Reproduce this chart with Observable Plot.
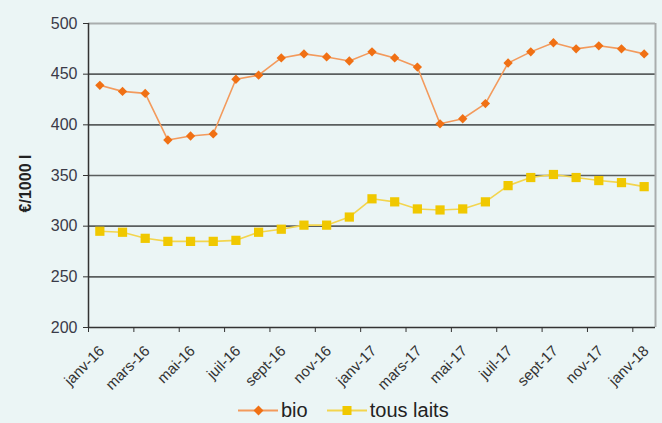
<!DOCTYPE html>
<html><head><meta charset="utf-8">
<script src="https://cdn.jsdelivr.net/npm/d3@7"></script>
<script src="https://cdn.jsdelivr.net/npm/@observablehq/plot@0.6"></script>
<style>
html,body{margin:0;padding:0;background:#ebf5f5;}
#wrap{width:662px;height:423px;position:relative;font-family:"Liberation Sans",Arial,sans-serif;}
#legend{position:absolute;left:238px;top:398px;height:25px;display:flex;align-items:center;font-size:20px;color:#222;white-space:nowrap;}
#legend span.item{display:inline-flex;align-items:center;margin-right:19px;}
</style></head>
<body><div id="wrap"><div id="chart"></div><div id="legend"></div></div>
<script>
const months = ["janv-16","févr-16","mars-16","avr-16","mai-16","juin-16","juil-16","août-16","sept-16","oct-16","nov-16","déc-16",
"janv-17","févr-17","mars-17","avr-17","mai-17","juin-17","juil-17","août-17","sept-17","oct-17","nov-17","déc-17","janv-18"];
const bio = [439,433,431,385,389,391,445,449,466,470,467,463,472,466,457,401,406,421,461,472,481,475,478,475,470];
const tousLaits = [295,294,288,285,285,285,286,294,297,301,301,309,327,324,317,316,317,324,340,348,351,348,345,343,339];
const yTicks = [200,250,300,350,400,450,500];
const seriesNames = ["bio","tous laits"];
const colors = {bio:{line:"#f39a5c",mark:"#f07014"}, "tous laits":{line:"#f3d54e",mark:"#f0c800"}};

const data = [];
months.forEach((m,i)=>{
  data.push({i, month:m, series:"bio", value:bio[i]});
  data.push({i, month:m, series:"tous laits", value:tousLaits[i]});
});
const labelIdx = months.map((_,i)=>i).filter(i=>i%2===0);
const boundaryTicks = labelIdx.slice(0,-1).map(i=>i+1.5).concat([-0.5]);

const chart = Plot.plot({
  width:662, height:395,
  marginLeft:88, marginRight:7, marginTop:23, marginBottom:68,
  style:{background:"transparent", fontFamily:"Liberation Sans, Arial, sans-serif"},
  x:{type:"linear", domain:[-0.5, months.length-0.5]},
  y:{domain:[200,500]},
  marks:[
    Plot.ruleY(yTicks.filter(v=>v>200 && v<500), {stroke:"#5a5e5e", strokeWidth:1.6}),
    Plot.ruleY([500], {stroke:"#a9adad", strokeWidth:2}),
    Plot.ruleX([months.length-0.5], {stroke:"#a9adad", strokeWidth:2}),
    Plot.ruleY([200], {stroke:"#333", strokeWidth:1.5}),
    Plot.ruleX([-0.5], {stroke:"#333", strokeWidth:1.5}),
    Plot.axisY({ticks:yTicks, tickSize:5, tickPadding:6, fontSize:16, color:"#3a3a48", label:null, stroke:"#333"}),
    Plot.axisX({ticks:boundaryTicks, tickSize:5, tickFormat:()=>"", label:null, stroke:"#333"}),
    Plot.axisX({ticks:labelIdx, tickSize:0, tickFormat:i=>months[i], tickRotate:-45, fontSize:15, color:"#333", label:null, dy:9, dx:2}),
    Plot.line(data, {x:"i", y:"value", z:"series", stroke:d=>colors[d.series].line, strokeWidth:1.6}),
    Plot.dot(data.filter(d=>d.series==="bio"), {x:"i", y:"value", symbol:"diamond2", r:4.2, fill:colors.bio.mark, stroke:"none"}),
    Plot.dot(data.filter(d=>d.series==="tous laits"), {x:"i", y:"value", symbol:"square", r:5.2, fill:colors["tous laits"].mark, stroke:"none"}),
    Plot.text(["€/1000 l"], {frameAnchor:"left", textAnchor:"middle", dx:-63, dy:8, rotate:-90, fontSize:16, fontWeight:"bold", fill:"#222"})
  ]
});
document.getElementById("chart").appendChild(chart);

const legend = document.getElementById("legend");
seriesNames.forEach(name=>{
  const c = colors[name];
  const sym = name==="bio"
    ? `<rect x="17" y="5" width="7" height="7" transform="rotate(45 20.5 8.5)" fill="${c.mark}"/>`
    : `<rect x="15.5" y="4" width="9" height="9" fill="${c.mark}"/>`;
  const s = document.createElement("span");
  s.className="item";
  s.innerHTML = `<svg width="40" height="17" style="margin-right:3px"><line x1="0" y1="8.5" x2="40" y2="8.5" stroke="${c.line}" stroke-width="2"/>${sym}</svg>${name}`;
  legend.appendChild(s);
});
</script>
</body></html>
